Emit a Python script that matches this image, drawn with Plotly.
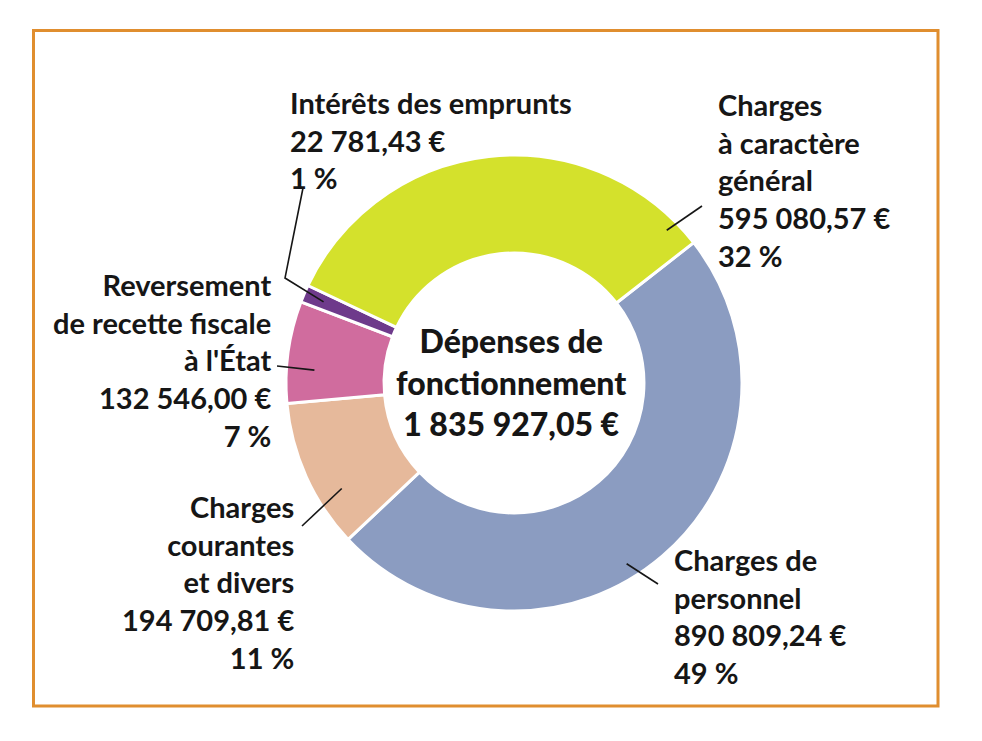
import math
import plotly.graph_objects as go

# ---------------- data ----------------
categories = [
    "Charges de personnel",
    "Charges courantes et divers",
    "Reversement de recette fiscale à l'État",
    "Intérêts des emprunts",
    "Charges à caractère général",
]
category_lines = [
    "Charges de<br>personnel",
    "Charges<br>courantes<br>et divers",
    "Reversement<br>de recette fiscale<br>à l'État",
    "Intérêts des emprunts",
    "Charges<br>à caractère<br>général",
]
values = [890809.24, 194709.81, 132546.00, 22781.43, 595080.57]
colors = ["#8b9cc1", "#e6b99b", "#d06c9e", "#6e3a8b", "#d4e12c"]
center_title = "Dépenses de<br>fonctionnement"

# ---------------- layout helpers ----------------
OFF = 8                      # default body margin of the page
W, H = 982 - 2 * OFF, 741 - 2 * OFF
CX, CY, R = 514, 383, 228    # window pixel coordinates
HOLE = 0.57
ROT = 52


def fr_money(v):
    s = f"{v:,.2f}"
    ent, dec = s.split(".")
    return ent.replace(",", " ") + "," + dec + " €"


def px(x):
    return (x - OFF) / W


def py(y):
    return 1 - (y - OFF) / H


total = sum(values)

# slice angles (clockwise from 12 o'clock)
starts, ends = [], []
a = ROT
for v in values:
    starts.append(a)
    a += v / total * 360
    ends.append(a)


def slice_point(i, frac, r):
    ang = math.radians(starts[i] + frac * (ends[i] - starts[i]))
    return CX + r * math.sin(ang), CY - r * math.cos(ang)


fig = go.Figure(
    go.Pie(
        labels=categories,
        values=values,
        hole=HOLE,
        sort=False,
        direction="clockwise",
        rotation=ROT,
        marker=dict(colors=colors, line=dict(color="white", width=3)),
        textinfo="none",
        hoverinfo="label+value+percent",
        showlegend=False,
        domain=dict(x=[px(CX - R), px(CX + R)], y=[py(CY + R), py(CY - R)]),
    )
)

# label placement (style/layout only)
label_cfg = [
    dict(x=672, y=540, anchor="left", frac=0.55, r=213, pts=[(658, 584)]),
    dict(x=296, y=487, anchor="right", frac=0.31, r=202, pts=[(302, 526)]),
    dict(x=274, y=265, anchor="right", frac=0.34, r=200, pts=[(277, 366)]),
    dict(x=288, y=83, anchor="left", frac=0.5, r=207, pts=[(303, 188), (285, 278)]),
    dict(x=716, y=85, anchor="left", frac=0.94, r=216, pts=[(702, 206)]),
]

FONT = dict(family="Lato", size=29, color="#161616", weight="bold")

annotations = []
shapes = []
for i, cfg in enumerate(label_cfg):
    pct = round(values[i] / total * 100)
    text = f"{category_lines[i]}<br>{fr_money(values[i])}<br>{pct} %"
    annotations.append(
        dict(
            x=px(cfg["x"]), y=py(cfg["y"]), xref="paper", yref="paper",
            xanchor=cfg["anchor"], yanchor="top", align=cfg["anchor"],
            text=text, showarrow=False, font=FONT,
        )
    )
    inner = slice_point(i, cfg["frac"], cfg["r"])
    pts = cfg["pts"] + [inner]
    path = "M " + " L ".join(f"{px(x):.5f},{py(y):.5f}" for x, y in pts)
    shapes.append(
        dict(type="path", xref="paper", yref="paper", path=path,
             line=dict(color="#161616", width=1.6))
    )

annotations.append(
    dict(
        x=px(511), y=py(382), xref="paper", yref="paper",
        xanchor="center", yanchor="middle", align="center",
        text=f"{center_title}<br>{fr_money(total)}", showarrow=False,
        font=dict(family="Lato", size=32, color="#161616", weight=900),
    )
)

# orange frame
shapes.append(
    dict(type="rect", xref="paper", yref="paper",
         x0=px(33.5), x1=px(938), y0=py(706), y1=py(30.5),
         line=dict(color="#e08e2f", width=3))
)

fig.update_layout(
    width=W, height=H,
    margin=dict(l=0, r=0, t=0, b=0),
    paper_bgcolor="white", plot_bgcolor="white",
    annotations=annotations, shapes=shapes,
)

fig.write_html("out.html")
